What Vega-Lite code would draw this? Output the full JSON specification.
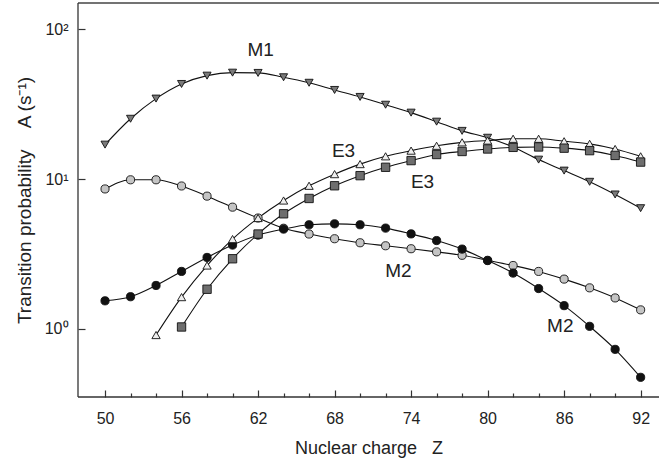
{
  "$schema": "https://vega.github.io/schema/vega-lite/v6.json",
  "autosize": {"type": "none"},
  "width": 581,
  "height": 394,
  "padding": {"left": 78, "top": 3, "right": 0, "bottom": 61},
  "background": "white",
  "config": {
    "view": {"stroke": null},
    "font": "Liberation Sans",
    "axis": {"labelFont": "Liberation Sans", "titleFont": "Liberation Sans", "labelColor": "#222", "titleColor": "#222", "titleFontWeight": "normal", "tickColor": "#333", "tickWidth": 1.2, "grid": false, "domain": false, "labelOverlap": false}
  },
  "datasets": {
    "pts": [
      {"Z": 50, "A": 17.0, "s": "M1"}, {"Z": 52, "A": 25.3, "s": "M1"}, {"Z": 54, "A": 34.5, "s": "M1"}, {"Z": 56, "A": 43.2, "s": "M1"}, {"Z": 58, "A": 49.1, "s": "M1"}, {"Z": 60, "A": 51.4, "s": "M1"}, {"Z": 62, "A": 51.2, "s": "M1"}, {"Z": 64, "A": 47.9, "s": "M1"}, {"Z": 66, "A": 44.0, "s": "M1"}, {"Z": 68, "A": 39.4, "s": "M1"}, {"Z": 70, "A": 35.4, "s": "M1"}, {"Z": 72, "A": 31.4, "s": "M1"}, {"Z": 74, "A": 27.8, "s": "M1"}, {"Z": 76, "A": 24.2, "s": "M1"}, {"Z": 78, "A": 21.0, "s": "M1"}, {"Z": 80, "A": 18.9, "s": "M1"}, {"Z": 82, "A": 16.4, "s": "M1"}, {"Z": 84, "A": 13.5, "s": "M1"}, {"Z": 86, "A": 11.4, "s": "M1"}, {"Z": 88, "A": 9.6, "s": "M1"}, {"Z": 90, "A": 7.9, "s": "M1"}, {"Z": 92, "A": 6.4, "s": "M1"},
      {"Z": 50, "A": 8.6, "s": "M2g"}, {"Z": 52, "A": 9.9, "s": "M2g"}, {"Z": 54, "A": 9.9, "s": "M2g"}, {"Z": 56, "A": 9.0, "s": "M2g"}, {"Z": 58, "A": 7.7, "s": "M2g"}, {"Z": 60, "A": 6.5, "s": "M2g"}, {"Z": 62, "A": 5.5, "s": "M2g"}, {"Z": 64, "A": 4.7, "s": "M2g"}, {"Z": 66, "A": 4.3, "s": "M2g"}, {"Z": 68, "A": 4.0, "s": "M2g"}, {"Z": 70, "A": 3.76, "s": "M2g"}, {"Z": 72, "A": 3.59, "s": "M2g"}, {"Z": 74, "A": 3.43, "s": "M2g"}, {"Z": 76, "A": 3.27, "s": "M2g"}, {"Z": 78, "A": 3.1, "s": "M2g"}, {"Z": 80, "A": 2.87, "s": "M2g"}, {"Z": 82, "A": 2.65, "s": "M2g"}, {"Z": 84, "A": 2.42, "s": "M2g"}, {"Z": 86, "A": 2.15, "s": "M2g"}, {"Z": 88, "A": 1.88, "s": "M2g"}, {"Z": 90, "A": 1.61, "s": "M2g"}, {"Z": 92, "A": 1.34, "s": "M2g"},
      {"Z": 50, "A": 1.54, "s": "M2b"}, {"Z": 52, "A": 1.64, "s": "M2b"}, {"Z": 54, "A": 1.95, "s": "M2b"}, {"Z": 56, "A": 2.42, "s": "M2b"}, {"Z": 58, "A": 3.0, "s": "M2b"}, {"Z": 60, "A": 3.63, "s": "M2b"}, {"Z": 62, "A": 4.23, "s": "M2b"}, {"Z": 64, "A": 4.64, "s": "M2b"}, {"Z": 66, "A": 4.96, "s": "M2b"}, {"Z": 68, "A": 5.03, "s": "M2b"}, {"Z": 70, "A": 4.96, "s": "M2b"}, {"Z": 72, "A": 4.71, "s": "M2b"}, {"Z": 74, "A": 4.31, "s": "M2b"}, {"Z": 76, "A": 3.89, "s": "M2b"}, {"Z": 78, "A": 3.41, "s": "M2b"}, {"Z": 80, "A": 2.86, "s": "M2b"}, {"Z": 82, "A": 2.36, "s": "M2b"}, {"Z": 84, "A": 1.86, "s": "M2b"}, {"Z": 86, "A": 1.43, "s": "M2b"}, {"Z": 88, "A": 1.04, "s": "M2b"}, {"Z": 90, "A": 0.73, "s": "M2b"}, {"Z": 92, "A": 0.475, "s": "M2b"},
      {"Z": 54, "A": 0.91, "s": "E3t"}, {"Z": 56, "A": 1.63, "s": "E3t"}, {"Z": 58, "A": 2.65, "s": "E3t"}, {"Z": 60, "A": 3.98, "s": "E3t"}, {"Z": 62, "A": 5.5, "s": "E3t"}, {"Z": 64, "A": 7.2, "s": "E3t"}, {"Z": 66, "A": 9.03, "s": "E3t"}, {"Z": 68, "A": 10.8, "s": "E3t"}, {"Z": 70, "A": 12.6, "s": "E3t"}, {"Z": 72, "A": 14.2, "s": "E3t"}, {"Z": 74, "A": 15.5, "s": "E3t"}, {"Z": 76, "A": 16.7, "s": "E3t"}, {"Z": 78, "A": 17.6, "s": "E3t"}, {"Z": 80, "A": 18.1, "s": "E3t"}, {"Z": 82, "A": 18.6, "s": "E3t"}, {"Z": 84, "A": 18.6, "s": "E3t"}, {"Z": 86, "A": 17.9, "s": "E3t"}, {"Z": 88, "A": 17.2, "s": "E3t"}, {"Z": 90, "A": 15.9, "s": "E3t"}, {"Z": 92, "A": 14.2, "s": "E3t"},
      {"Z": 56, "A": 1.03, "s": "E3s"}, {"Z": 58, "A": 1.84, "s": "E3s"}, {"Z": 60, "A": 2.94, "s": "E3s"}, {"Z": 62, "A": 4.3, "s": "E3s"}, {"Z": 64, "A": 5.87, "s": "E3s"}, {"Z": 66, "A": 7.43, "s": "E3s"}, {"Z": 68, "A": 9.03, "s": "E3s"}, {"Z": 70, "A": 10.55, "s": "E3s"}, {"Z": 72, "A": 12.0, "s": "E3s"}, {"Z": 74, "A": 13.3, "s": "E3s"}, {"Z": 76, "A": 14.6, "s": "E3s"}, {"Z": 78, "A": 15.3, "s": "E3s"}, {"Z": 80, "A": 15.9, "s": "E3s"}, {"Z": 82, "A": 16.3, "s": "E3s"}, {"Z": 84, "A": 16.4, "s": "E3s"}, {"Z": 86, "A": 16.1, "s": "E3s"}, {"Z": 88, "A": 15.5, "s": "E3s"}, {"Z": 90, "A": 14.4, "s": "E3s"}, {"Z": 92, "A": 13.0, "s": "E3s"}
    ],
    "labels": [
      {"Z": 62.2, "A": 73, "t": "M1"},
      {"Z": 68.7, "A": 15.3, "t": "E3"},
      {"Z": 74.9, "A": 9.5, "t": "E3"},
      {"Z": 73.0, "A": 2.45, "t": "M2"},
      {"Z": 85.7, "A": 1.05, "t": "M2"}
    ]
  },
  "layer": [
    {"data": {"name": "pts"}, "mark": {"type": "line", "interpolate": "monotone", "color": "#111", "strokeWidth": 1.1},
      "encoding": {
        "x": {"field": "Z", "type": "quantitative", "scale": {"domain": [47.88, 93.44], "nice": false, "zero": false},
          "axis": {"title": "Nuclear charge\u00a0\u00a0\u00a0Z", "values": [50, 52, 54, 56, 58, 60, 62, 64, 66, 68, 70, 72, 74, 76, 78, 80, 82, 84, 86, 88, 90, 92],
            "tickCount": 100,
            "labelExpr": "(datum.value - 50) % 6 == 0 ? datum.value : ''",
            "labelOverlap": false, "labelBound": false,
            "offset": -7, "tickSize": 7,
            "tickDash": {"condition": {"test": "(datum.value - 50) % 6 == 0", "value": [1, 0]}, "value": [0, 3, 4, 20]},
            "labelPadding": 13, "labelFontSize": 16, "titleFontSize": 18, "titlePadding": 13, "labelFlush": false}},
        "y": {"field": "A", "type": "quantitative", "scale": {"type": "log", "domain": [0.351, 150], "nice": false},
          "axis": {"title": "Transition probability\u00a0\u00a0\u00a0\u00a0A (s⁻¹)", "values": [1, 10, 100], "tickCount": 100,
            "labelExpr": "datum.value == 100 ? '10²' : datum.value == 10 ? '10¹' : '10⁰'",
            "labelOverlap": false,
            "offset": -7, "tickSize": 7, "labelPadding": 10, "labelFontSize": 16, "titleFontSize": 19, "titlePadding": 10}},
        "detail": {"field": "s"}
      }},
    {"data": {"values": [{}]}, "mark": {"type": "rule", "color": "#444", "strokeWidth": 1.5},
      "encoding": {"y": {"datum": 150, "type": "quantitative", "scale": {"type": "log", "domain": [0.351, 150], "nice": false}}}},
    {"data": {"values": [{}]}, "mark": {"type": "rule", "color": "#333", "strokeWidth": 1.3},
      "encoding": {"y": {"datum": 0.351, "type": "quantitative", "scale": {"type": "log", "domain": [0.351, 150], "nice": false}}}},
    {"data": {"values": [{}]}, "mark": {"type": "rule", "color": "#333", "strokeWidth": 1.3},
      "encoding": {"x": {"datum": 47.88, "type": "quantitative", "scale": {"domain": [47.88, 93.44], "nice": false, "zero": false}}}},
    {"data": {"name": "pts"}, "mark": {"type": "point", "filled": true, "stroke": "#111", "strokeWidth": 0.9, "opacity": 1},
      "encoding": {
        "x": {"field": "Z", "type": "quantitative", "scale": {"domain": [47.88, 93.44], "nice": false, "zero": false}},
        "y": {"field": "A", "type": "quantitative", "scale": {"type": "log", "domain": [0.351, 150], "nice": false}},
        "shape": {"field": "s", "type": "nominal", "legend": null, "scale": {"domain": ["M1", "M2g", "M2b", "E3t", "E3s"], "range": ["triangle-down", "circle", "circle", "triangle-up", "square"]}},
        "fill": {"field": "s", "type": "nominal", "legend": null, "scale": {"domain": ["M1", "M2g", "M2b", "E3t", "E3s"], "range": ["#7a7a7a", "#c4c4c4", "#111111", "#eeeeee", "#6e6e6e"]}},
        "size": {"field": "s", "type": "nominal", "legend": null, "scale": {"domain": ["M1", "M2g", "M2b", "E3t", "E3s"], "range": [65, 70, 70, 65, 50]}}
      }},
    {"data": {"name": "labels"}, "mark": {"type": "text", "fontSize": 19, "color": "#222", "font": "Liberation Sans"},
      "encoding": {
        "x": {"field": "Z", "type": "quantitative", "scale": {"domain": [47.88, 93.44], "nice": false, "zero": false}},
        "y": {"field": "A", "type": "quantitative", "scale": {"type": "log", "domain": [0.351, 150], "nice": false}},
        "text": {"field": "t"}
      }}
  ]
}
